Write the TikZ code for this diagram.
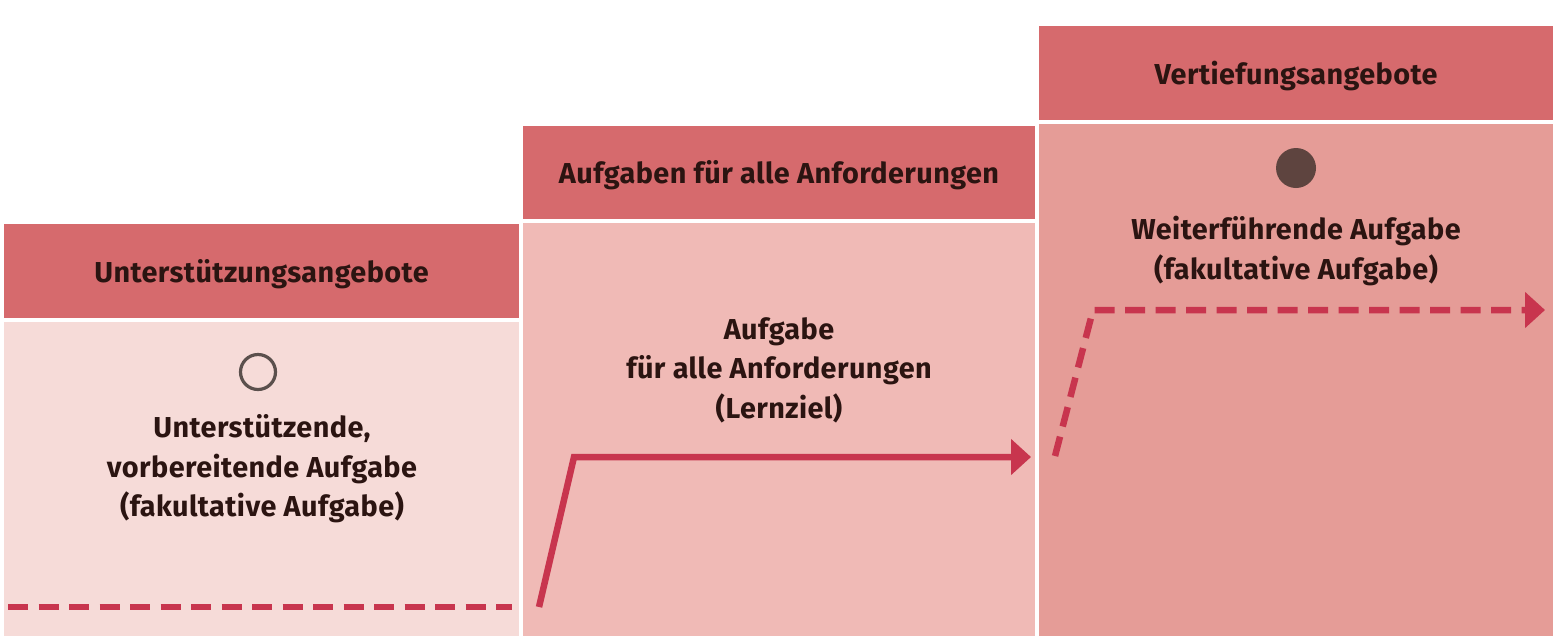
\documentclass[tikz,border=0pt]{standalone}
\usepackage{fontspec}
\setmainfont{Fira Sans}[LetterSpace=1.5]
\usetikzlibrary{arrows.meta}

\definecolor{headred}{HTML}{D66A6D}
\definecolor{bodyone}{HTML}{F6DBD8}
\definecolor{bodytwo}{HTML}{F0BAB6}
\definecolor{bodythree}{HTML}{E59C97}
\definecolor{linered}{HTML}{C8354E}
\definecolor{textbrown}{HTML}{2B1411}
\definecolor{dotbrown}{HTML}{5E443F}
\definecolor{ringgray}{HTML}{5B504D}

\begin{document}
\begin{tikzpicture}[
  boxtext/.style={font=\bfseries\fontsize{8.2}{11.2}\selectfont, text=textbrown, align=center, inner sep=0pt},
  trackline/.style={line width=0.65mm, draw=linered},
  trackdash/.style={trackline, dash pattern=on 2mm off 1.05mm},
  arrowend/.style={-{Triangle[length=2mm,width=3.5mm]}}
]
\useasboundingbox (0,0) rectangle (15.6,6.4);
\fill[white] (0,0) rectangle (15.6,6.4);

% columns
\fill[headred] (0.04,3.22) rectangle (5.19,4.16);
\fill[bodyone] (0.04,0.04) rectangle (5.19,3.18);
\fill[headred] (5.23,4.21) rectangle (10.35,5.14);
\fill[bodytwo] (5.23,0.04) rectangle (10.35,4.17);
\fill[headred] (10.39,5.20) rectangle (15.53,6.14);
\fill[bodythree] (10.39,0.04) rectangle (15.53,5.16);

% headings
\node[boxtext] (headone) at (2.615,3.66) {Unterstützungsangebote};
\node[boxtext] (headtwo) at (7.79,4.645) {Aufgaben für alle Anforderungen};
\node[boxtext] (headthree) at (12.96,5.635) {Vertiefungsangebote};

% tasks
\draw[line width=0.32mm, draw=ringgray] (2.58,2.68) circle (0.175);
\node[boxtext] (taskone) at (2.62,1.71) {Unterstützende,\\vorbereitende Aufgabe\\(fakultative Aufgabe)};
\node[boxtext] (tasktwo) at (7.79,2.70) {Aufgabe\\für alle Anforderungen\\(Lernziel)};
\fill[dotbrown] (12.96,4.72) circle (0.2);
\node[boxtext] (taskthree) at (12.96,3.89) {Weiterführende Aufgabe\\(fakultative Aufgabe)};

% learning paths
\draw[trackdash] (0.08,0.33) -- (5.12,0.33);
\draw[trackline, arrowend] (5.39,0.33) -- (5.74,1.83) -- (10.31,1.83);
\draw[trackdash, arrowend] (10.55,1.84) -- (10.93,3.30) -- (15.45,3.30);
\end{tikzpicture}
\end{document}
